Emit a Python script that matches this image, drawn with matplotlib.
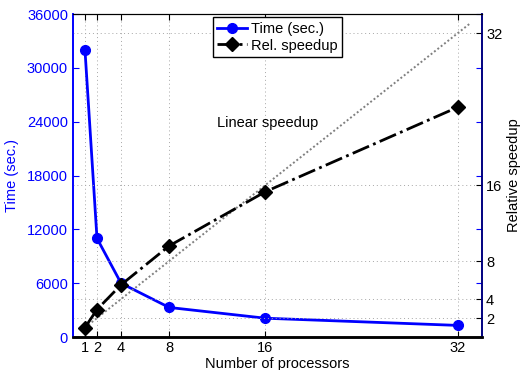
import matplotlib
matplotlib.use('Agg')
import matplotlib.pyplot as plt

plt.rcParams['font.family'] = ['Liberation Sans', 'DejaVu Sans']
plt.rcParams['font.size'] = 10.5

# data
procs = [1, 2, 4, 8, 16, 32]
time_sec = [32000, 11000, 6000, 3300, 2100, 1300]
speedup = [1.0, 2.9, 5.5, 9.6, 15.3, 24.2]
linear_x = [1, 33]
linear_y = [1, 33]
time_ticks = [0, 6000, 12000, 18000, 24000, 30000, 36000]
speed_ticks = [2, 4, 8, 16, 32]

fig = plt.figure(figsize=(5.21, 3.70), dpi=100)
ax1 = fig.add_axes([0.140, 0.089, 0.785, 0.873])
ax2 = ax1.twinx()

# time on the left axis
l1, = ax1.plot(procs, time_sec, '-o', color='blue', lw=2, markersize=7,
               label='Time (sec.)')
ax1.set_xlim(0, 34)
ax1.set_ylim(0, 36000)
ax1.set_xticks(procs)
ax1.set_yticks(time_ticks)
ax1.tick_params(axis='x', direction='in', top=True, length=4, pad=3)
ax1.tick_params(axis='y', direction='in', right=True, colors='blue', length=4)
ax1.xaxis.grid(True, linestyle=(0, (1, 3)), color='0.65', lw=0.7)
ax1.set_xlabel('Number of processors', labelpad=1)
ax1.set_ylabel('Time (sec.)', color='blue', labelpad=6)

# speedup on the right axis
ax2.plot(linear_x, linear_y, linestyle=(0, (1, 1.2)), color='0.5', lw=1.4,
         zorder=1)
l2, = ax2.plot(procs, speedup, '-.', marker='D', color='black', lw=2,
               markersize=7, label='Rel. speedup', zorder=3)
ax2.set_ylim(0, 34)
ax2.set_yticks(speed_ticks)
ax2.tick_params(axis='y', direction='in', length=4, colors='black', pad=3)
ax2.yaxis.grid(True, linestyle=(0, (1, 3)), color='0.65', lw=0.7)
ax2.set_ylabel('Relative speedup', labelpad=3)
ax2.text(12, 22.5, 'Linear speedup', va='center', ha='left')

for a in (ax1, ax2):
    a.spines['left'].set_color('blue')
    a.spines['right'].set_color('#000080')
    a.spines['bottom'].set_linewidth(1.8)
    a.spines['left'].set_linewidth(1.2)
    a.spines['right'].set_linewidth(1.2)

ax2.legend(handles=[l1, l2], loc='upper center', bbox_to_anchor=(0.5, 0.99),
           borderaxespad=0, handlelength=2.0, handletextpad=0.3,
           fancybox=False, edgecolor='black', framealpha=1,
           borderpad=0.3, labelspacing=0.2)

fig.savefig('out.png', dpi=100)
